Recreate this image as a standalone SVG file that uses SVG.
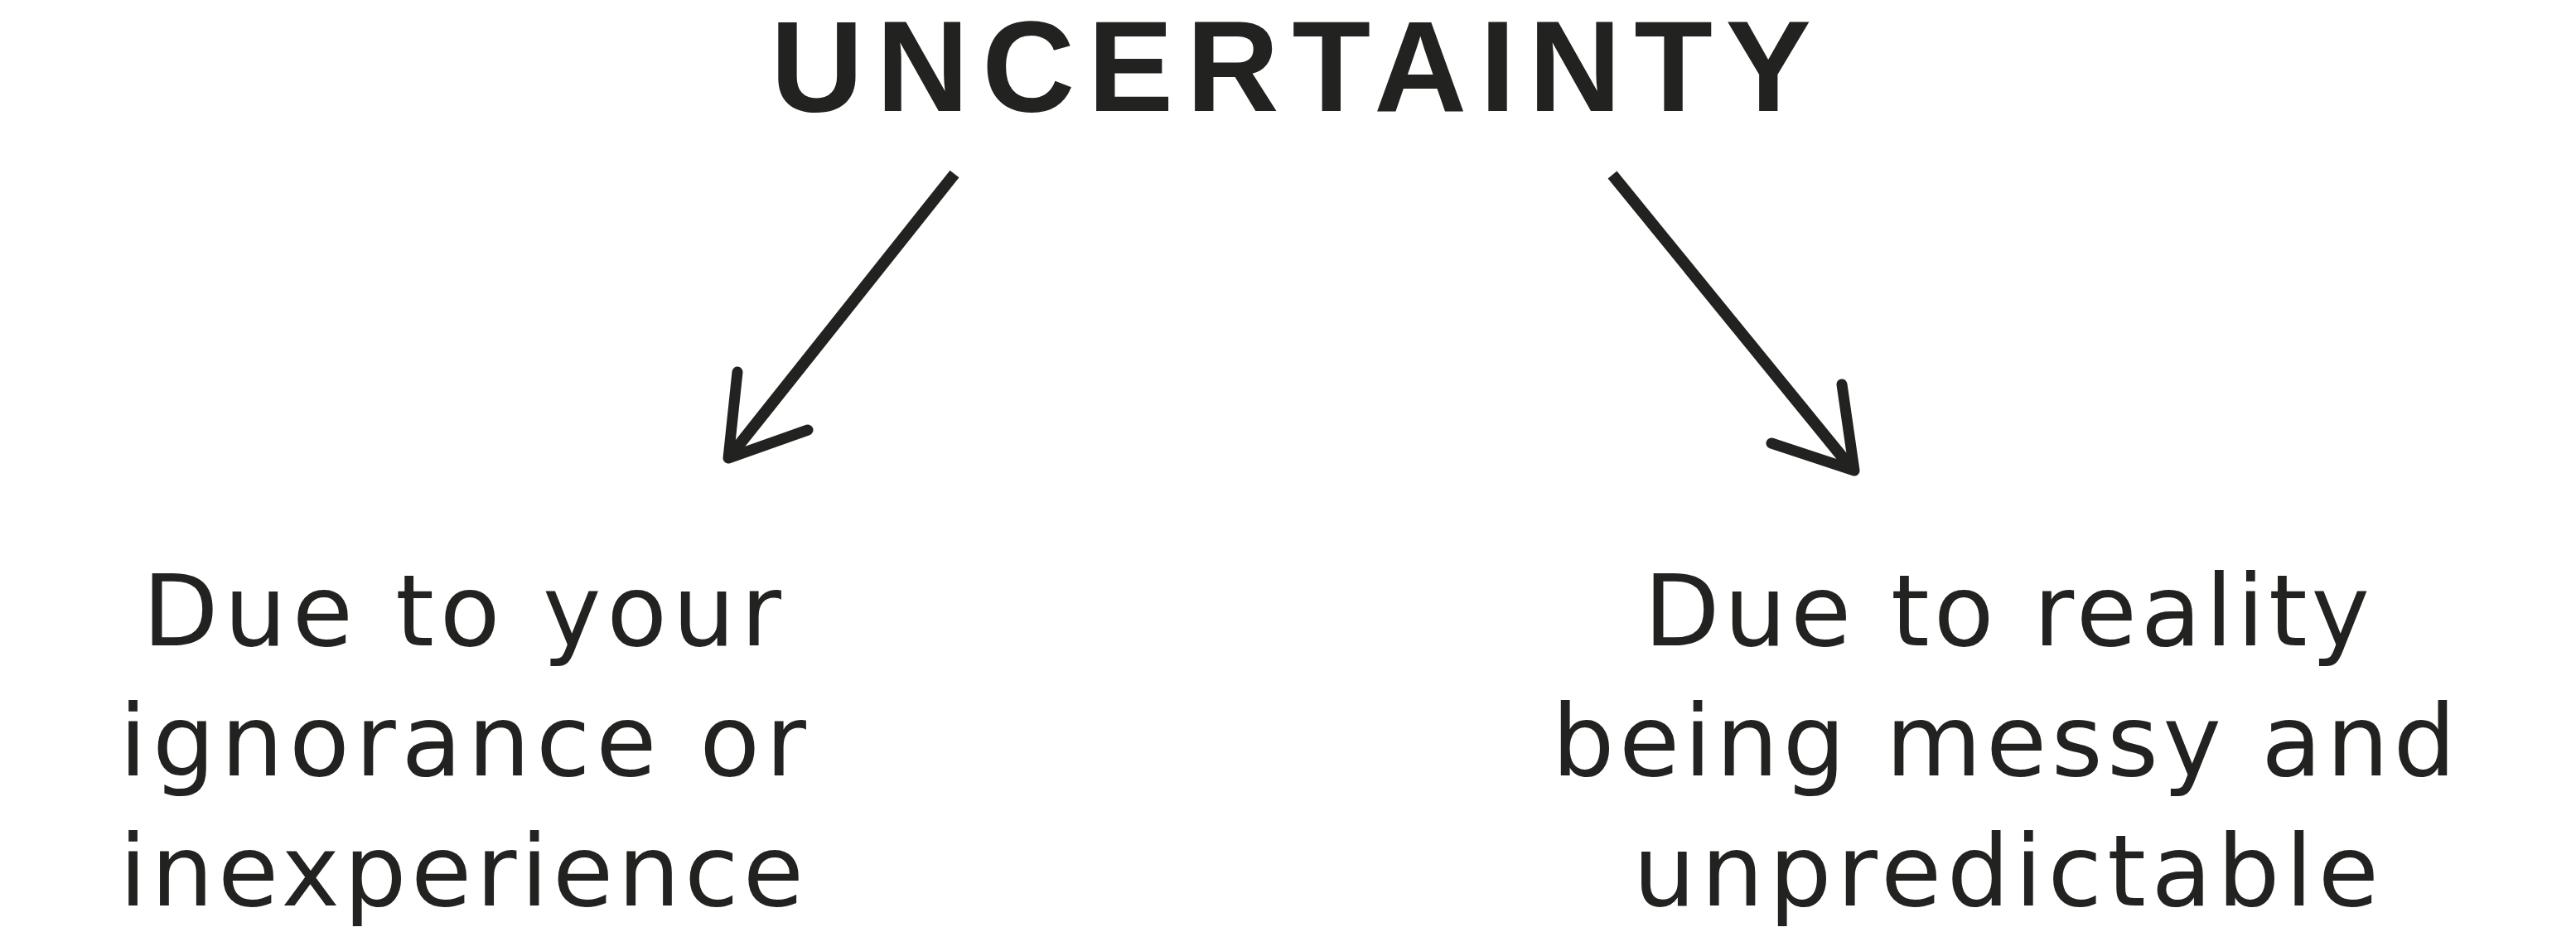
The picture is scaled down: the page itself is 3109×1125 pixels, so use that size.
<svg xmlns="http://www.w3.org/2000/svg" width="3109" height="1125" viewBox="0 0 3109 1125">
<style>
.title{font-family:"Liberation Sans",Arial,sans-serif;font-weight:bold;font-size:155px;fill:#222220}
.lbl{font-family:"DejaVu Sans","Liberation Sans",sans-serif;font-size:119px;fill:#222220}
.shaft{stroke:#222220;stroke-width:14;fill:none;stroke-linecap:butt}
.head{stroke:#222220;stroke-width:13;fill:none;stroke-linecap:round;stroke-linejoin:round}
</style>
<rect width="3109" height="1125" fill="#ffffff"/>
<g id="uncertainty">
<text class="title" x="930" y="134" textLength="1256" lengthAdjust="spacing">UNCERTAINTY</text>
</g>
<g id="connectors">
<path class="shaft" d="M1152,210 L884,547"/>
<path class="head" d="M890,449 L879,553 L975,519"/>
<path class="shaft" d="M1946,211 L2232,562"/>
<path class="head" d="M2223,464 L2238,568 L2138,535"/>
</g>
<g id="ignorance">
<text class="lbl" x="172" y="779" textLength="771" lengthAdjust="spacing">Due to your</text>
<text class="lbl" x="144" y="936" textLength="829" lengthAdjust="spacing">ignorance or</text>
<text class="lbl" x="144" y="1093" textLength="826" lengthAdjust="spacing">inexperience</text>
</g>
<g id="reality">
<text class="lbl" x="1984" y="779" textLength="876" lengthAdjust="spacing">Due to reality</text>
<text class="lbl" x="1873" y="936" textLength="1091" lengthAdjust="spacing">being messy and</text>
<text class="lbl" x="1971" y="1093" textLength="900" lengthAdjust="spacing">unpredictable</text>
</g>
</svg>
